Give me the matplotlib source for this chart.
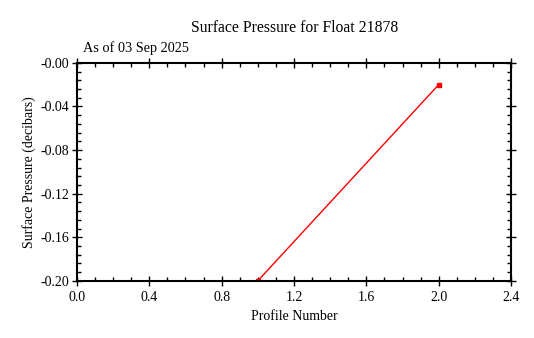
import matplotlib
matplotlib.use('Agg')
import matplotlib.pyplot as plt
from matplotlib.ticker import MultipleLocator, FuncFormatter

# data
profiles = [1, 2]
pressure = [-0.20, -0.02]

plt.rcParams['font.family'] = 'Liberation Serif'
plt.rcParams['font.size'] = 10

fig = plt.figure(figsize=(5.34, 3.38), dpi=100)
ax = fig.add_axes([0.144, 0.169, 0.813, 0.645])

ax.plot(profiles, pressure, color='red', lw=1, marker='s', ms=2.5)

ax.set_xlim(0, 2.4)
ax.set_ylim(-0.20, 0.0)
ax.xaxis.set_major_locator(MultipleLocator(0.4))
ax.xaxis.set_minor_locator(MultipleLocator(0.1))
ax.yaxis.set_major_locator(MultipleLocator(0.04))
ax.yaxis.set_minor_locator(MultipleLocator(0.008))
ax.xaxis.set_major_formatter(FuncFormatter(lambda v, p: '%.1f' % v))
ax.yaxis.set_major_formatter(FuncFormatter(lambda v, p: '%.2f' % -abs(v)))

ax.tick_params(which='both', top=True, right=True, color='black', width=1)
ax.tick_params(which='major', direction='inout', length=7, pad=2)
ax.tick_params(axis='x', which='major', pad=4)
ax.tick_params(which='minor', direction='in', length=3)
for s in ax.spines.values():
    s.set_linewidth(1.5)

ax.set_xlabel('Profile Number', labelpad=4)
ax.set_ylabel('Surface Pressure (decibars)', labelpad=3)
fig.text(0.552, 0.918, 'Surface Pressure for Float 21878', ha='center', va='center', fontsize=11.3)
fig.text(0.155, 0.857, 'As of 03 Sep 2025', ha='left', va='center', fontsize=10.3)

fig.savefig('out.png', dpi=100)
